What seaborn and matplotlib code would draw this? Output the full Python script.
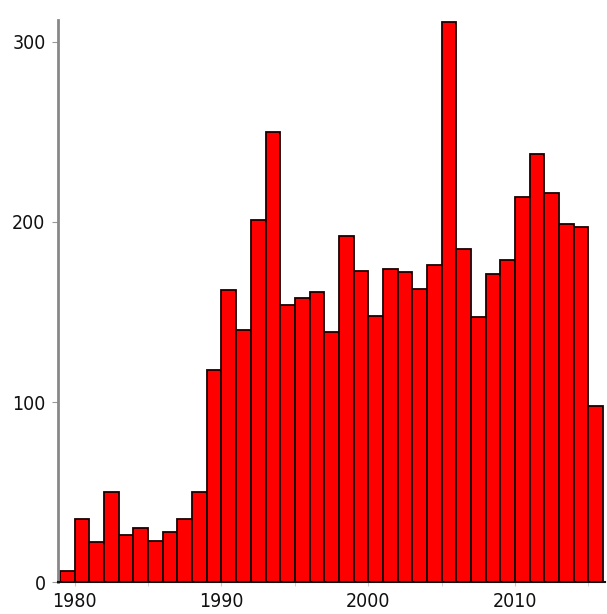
import numpy as np
import pandas as pd
import matplotlib
matplotlib.use("Agg")
import matplotlib.pyplot as plt
import seaborn as sns

# yearly counts, 1979-2015
years = list(range(1979, 2016))
counts = [6, 35, 22, 50, 26, 30, 23, 28, 35, 50,
          118, 162, 140, 201, 250, 154, 158, 161, 139, 192,
          173, 148, 174, 172, 163, 176, 311, 185, 147, 171,
          179, 214, 238, 216, 199, 197, 98]
x_ticks = [1980, 1990, 2000, 2010]
y_ticks = [0, 100, 200, 300]

df = pd.DataFrame({"year": years, "count": counts})

sns.set_style("white")
plt.rcParams['font.family'] = ['DejaVu Sans']
plt.rcParams['font.stretch'] = 'condensed'

fig = plt.figure(figsize=(6.07, 6.14), dpi=100)
ax = fig.add_axes([0.0956, 0.052, 0.9014, 0.915])

sns.histplot(data=df, x="year", weights="count", bins=list(range(1979, 2017)),
             color="#ff0000", alpha=1.0, edgecolor="#1a0000", linewidth=1.3, ax=ax)

ax.set_xlim(1978.86, 2016.15)
ax.set_ylim(0, 312)
ax.set_xticks(x_ticks)
ax.set_xticks(range(1980, 2016, 5), minor=True)
ax.set_yticks(y_ticks)
ax.set_xlabel("")
ax.set_ylabel("")

for s in ["top", "right"]:
    ax.spines[s].set_visible(False)
ax.spines["left"].set_color("#888888")
ax.spines["left"].set_linewidth(2)
ax.spines["bottom"].set_color("#111111")
ax.spines["bottom"].set_linewidth(1.5)

ax.tick_params(axis="y", which="major", left=True, length=4, color="#999999",
               labelsize=14, pad=5, labelcolor="#111111")
ax.tick_params(axis="x", which="both", bottom=True, length=3, color="#cccccc",
               labelsize=14, pad=4.5, labelcolor="#111111")

fig.savefig("out.png", dpi=100)
